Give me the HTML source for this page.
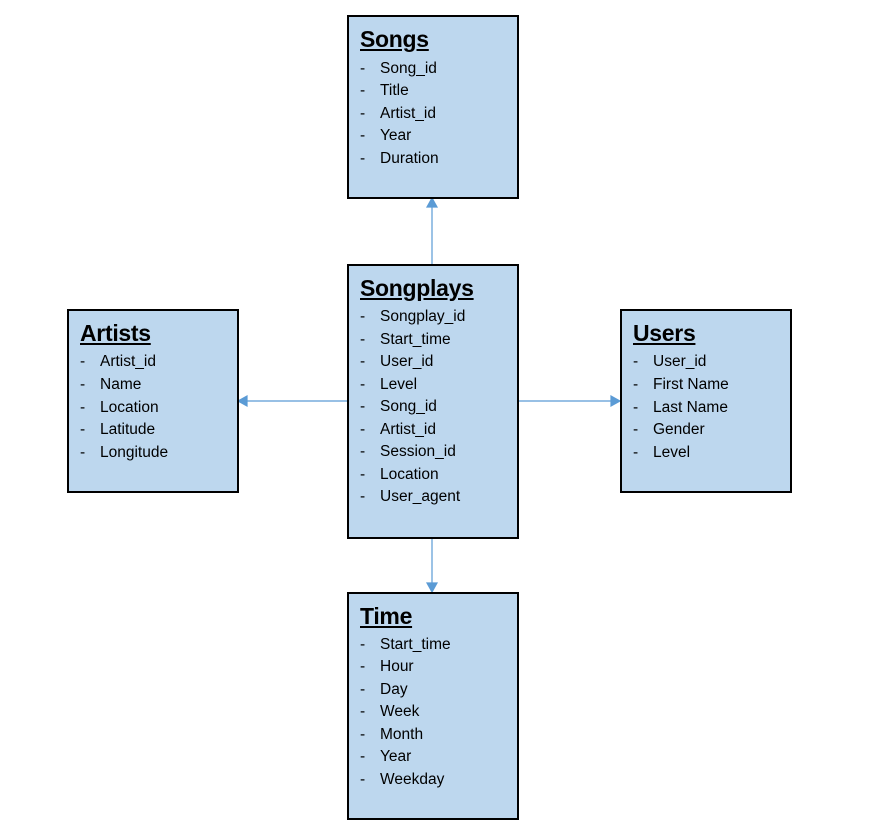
<!DOCTYPE html>
<html><head><style>
body{margin:0;width:875px;height:831px;background:#fff;position:relative;font-family:"Liberation Sans",sans-serif;overflow:hidden}
.b{position:absolute;background:#bdd7ee;border:2px solid #000;box-sizing:border-box}
.t{position:absolute;left:11px;top:9px;font-size:23px;font-weight:bold;text-decoration:underline;color:#000;letter-spacing:-0.3px}
.l{position:absolute;left:11px;font-size:15.5px;color:#000;white-space:nowrap;margin-top:1px}
.l span{position:absolute;left:20px}
</style></head><body>
<svg width="875" height="831" style="position:absolute;left:0;top:0">
<g stroke="#5b9bd5" stroke-width="1.2" fill="#5b9bd5">
<line x1="432" y1="264" x2="432" y2="206"/><polygon points="432,198 427,207 437,207"/>
<line x1="432" y1="538" x2="432" y2="584"/><polygon points="432,592 427,583 437,583"/>
<line x1="347" y1="401" x2="246" y2="401"/><polygon points="238,401 247,396 247,406"/>
<line x1="518" y1="401" x2="612" y2="401"/><polygon points="620,401 611,396 611,406"/>
</g></svg>

<div class="b" style="left:347px;top:15px;width:172px;height:184px">
<div class="t">Songs</div>
<div class="l" style="top:42px">-<span>Song_id</span></div>
<div class="l" style="top:64px">-<span>Title</span></div>
<div class="l" style="top:87px">-<span>Artist_id</span></div>
<div class="l" style="top:109px">-<span>Year</span></div>
<div class="l" style="top:132px">-<span>Duration</span></div>
</div>

<div class="b" style="left:347px;top:264px;width:172px;height:275px">
<div class="t">Songplays</div>
<div class="l" style="top:41px">-<span>Songplay_id</span></div>
<div class="l" style="top:64px">-<span>Start_time</span></div>
<div class="l" style="top:86px">-<span>User_id</span></div>
<div class="l" style="top:109px">-<span>Level</span></div>
<div class="l" style="top:131px">-<span>Song_id</span></div>
<div class="l" style="top:154px">-<span>Artist_id</span></div>
<div class="l" style="top:176px">-<span>Session_id</span></div>
<div class="l" style="top:199px">-<span>Location</span></div>
<div class="l" style="top:221px">-<span>User_agent</span></div>
</div>

<div class="b" style="left:67px;top:309px;width:172px;height:184px">
<div class="t">Artists</div>
<div class="l" style="top:41px">-<span>Artist_id</span></div>
<div class="l" style="top:64px">-<span>Name</span></div>
<div class="l" style="top:87px">-<span>Location</span></div>
<div class="l" style="top:109px">-<span>Latitude</span></div>
<div class="l" style="top:132px">-<span>Longitude</span></div>
</div>

<div class="b" style="left:620px;top:309px;width:172px;height:184px">
<div class="t">Users</div>
<div class="l" style="top:41px">-<span>User_id</span></div>
<div class="l" style="top:64px">-<span>First Name</span></div>
<div class="l" style="top:87px">-<span>Last Name</span></div>
<div class="l" style="top:109px">-<span>Gender</span></div>
<div class="l" style="top:132px">-<span>Level</span></div>
</div>

<div class="b" style="left:347px;top:592px;width:172px;height:228px">
<div class="t">Time</div>
<div class="l" style="top:41px">-<span>Start_time</span></div>
<div class="l" style="top:63px">-<span>Hour</span></div>
<div class="l" style="top:86px">-<span>Day</span></div>
<div class="l" style="top:108px">-<span>Week</span></div>
<div class="l" style="top:131px">-<span>Month</span></div>
<div class="l" style="top:153px">-<span>Year</span></div>
<div class="l" style="top:176px">-<span>Weekday</span></div>
</div>
</body></html>
